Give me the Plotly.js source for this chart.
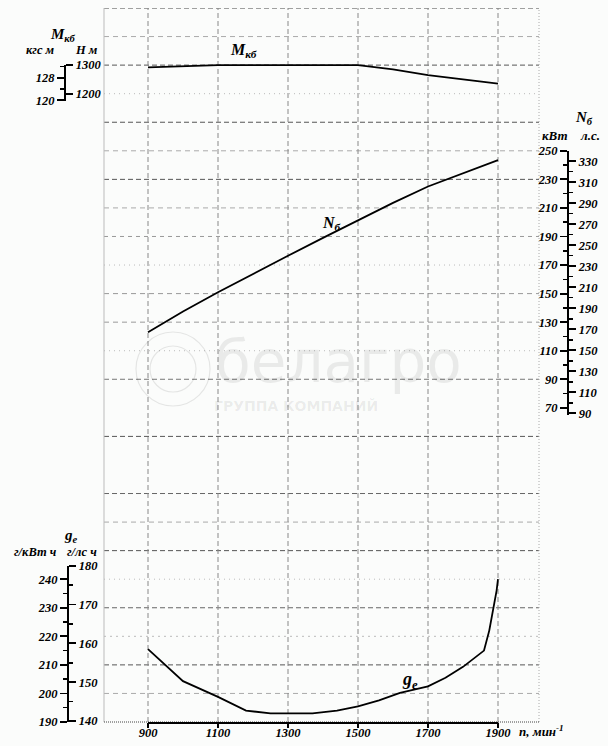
<!DOCTYPE html>
<html>
<head>
<meta charset="utf-8">
<script src="https://cdn.plot.ly/plotly-3.0.1.min.js"></script>
<style>html,body{margin:0;padding:0;background:#fbfcfb;}#chart{width:608px;height:746px;}</style>
</head>
<body>
<div id="chart"></div>
<script>
// ---------- data ----------
const rpmTorque = [900, 1000, 1100, 1200, 1300, 1400, 1500, 1600, 1700, 1800, 1900];
const torqueNm  = [1292, 1297, 1300, 1300, 1300, 1300, 1300, 1285, 1265, 1250, 1235];

const rpmPower  = [900, 1000, 1100, 1200, 1300, 1400, 1500, 1600, 1700, 1800, 1900];
const powerKw   = [123, 137.5, 151, 164, 176.5, 189, 201.5, 213.5, 225, 234, 243.5];

const rpmFuel   = [900, 1000, 1100, 1180, 1250, 1300, 1370, 1440, 1500, 1560, 1620, 1700, 1750, 1800, 1860, 1875, 1888, 1896, 1900];
const fuelGkWh  = [215.5, 204.3, 198.8, 194, 193, 193, 193, 194, 195.5, 197.6, 200.2, 202.5, 205.5, 209.3, 215, 222, 230, 236, 240];

const rpmTicks  = [900, 1100, 1300, 1500, 1700, 1900];
const nmTicks   = [1200, 1300];
const kgfTicks  = [120, 128];
const kwTicks   = [70, 90, 110, 130, 150, 170, 190, 210, 230, 250];
const hpTicks   = [90, 110, 130, 150, 170, 190, 210, 230, 250, 270, 290, 310, 330];
const gkwhTicks = [190, 200, 210, 220, 230, 240];
const ghphTicks = [140, 150, 160, 170, 180];

// ---------- geometry ----------
const W = 608, H = 746;
const X0 = 104, X1 = 539, Y0 = 8, Y1 = 722;
const xDom = [X0 / W, X1 / W];
const yDom = [(H - Y1) / H, (H - Y0) / H];
const fx = px => px / W;
const fy = py => (H - py) / H;

const NM_RANGE = [-1000, 1500];
const KW_RANGE = [-150, 350];
const G_RANGE  = [190, 440];
const KW_PER_HP = 0.73549875;
const NM_PER_KGF = 9.80665;

function subDomain(full, lo, hi) {
  const f = v => yDom[0] + (v - full[0]) / (full[1] - full[0]) * (yDom[1] - yDom[0]);
  return [f(lo), f(hi)];
}

const serif = {family: 'Liberation Serif, DejaVu Serif, serif', color: '#000', weight: 'bold', style: 'italic'};
const tickFont = Object.assign({}, serif, {size: 12.5});

// ---------- traces ----------
const line = {color: '#000', width: 1.8};
const traces = [
  {x: rpmTorque, y: torqueNm, xaxis: 'x', yaxis: 'y',  mode: 'lines', line, hoverinfo: 'skip', showlegend: false},
  {x: rpmPower,  y: powerKw,  xaxis: 'x', yaxis: 'y2', mode: 'lines', line, hoverinfo: 'skip', showlegend: false},
  {x: rpmFuel,   y: fuelGkWh, xaxis: 'x', yaxis: 'y3', mode: 'lines', line, hoverinfo: 'skip', showlegend: false}
];
['y4', 'y5', 'y6', 'y7', 'y8', 'y9'].forEach(ya => traces.push(
  {x: [null], y: [null], xaxis: 'x', yaxis: ya, mode: 'lines', hoverinfo: 'skip', showlegend: false}
));

// ---------- display scales ----------
const nmLo = 1176, nmHi = 1300;
const nmDom = subDomain(NM_RANGE, nmLo, nmHi);
const kwLo = 65, kwHi = 250;
const kwDom = subDomain(KW_RANGE, kwLo, kwHi);
const gLo = 190, gHi = 180 / KW_PER_HP;
const gDom = subDomain(G_RANGE, gLo, gHi);

function scaleAxis(dom, pos, side, range, tickvals, minor) {
  const a = {
    domain: dom, anchor: 'free', position: pos, side: side, range: range,
    tickmode: 'array', tickvals: tickvals, ticks: 'outside', ticklen: 7, tickwidth: 1.8, tickcolor: '#000',
    showline: true, linecolor: '#000', linewidth: 2.2, showgrid: false, zeroline: false,
    tickfont: tickFont, fixedrange: true
  };
  if (minor) a.minor = Object.assign({ticks: 'outside', ticklen: 4, tickwidth: 1.5, tickcolor: '#000', showgrid: false}, minor);
  return a;
}

const hidden = r => ({domain: yDom, range: r, visible: false, fixedrange: true});

// ---------- grid ----------
const shapes = [];
const gridStyle = {
  0: ['#444', '5px,3px'], 1: ['#aaa', '5px,4px'], 2: ['#555', '5px,3px'], 3: ['#bbb', '1px,4px'],
  4: ['#555', '5px,3px'], 5: ['#aaa', '5px,4px'], 6: ['#555', '5px,3px'], 7: ['#aaa', '5px,4px'],
  8: ['#999', '4px,4px'], 9: ['#bbb', '1px,4px'], 10: ['#999', '5px,4px'], 11: ['#999', '5px,4px'],
  12: ['#bbb', '1px,4px'], 13: ['#777', '5px,3px'], 15: ['#555', '5px,3px'], 17: ['#666', '5px,3px'],
  18: ['#aaa', '5px,4px'], 19: ['#555', '5px,3px'], 20: ['#bbb', '1px,4px'], 21: ['#666', '5px,3px'],
  22: ['#bbb', '2px,4px'], 23: ['#555', '5px,3px'], 24: ['#aaa', '5px,4px']
};
Object.keys(gridStyle).forEach(k => {
  const i = +k, st = gridStyle[k];
  const v = NM_RANGE[1] - 100 * i;
  shapes.push({type: 'line', xref: 'paper', yref: 'y', x0: xDom[0], x1: xDom[1], y0: v, y1: v,
    line: {color: st[0], width: 1, dash: st[1]}, layer: 'below'});
});
rpmTicks.forEach(r => shapes.push({type: 'line', xref: 'x', yref: 'paper', x0: r, x1: r, y0: yDom[0], y1: yDom[1],
  line: {color: '#888', width: 1, dash: '5px,3px'}, layer: 'below'}));
// frame
shapes.push({type: 'line', xref: 'paper', yref: 'paper', x0: xDom[0], x1: xDom[0], y0: yDom[0], y1: yDom[1], line: {color: '#bbb', width: 1}, layer: 'below'});
shapes.push({type: 'line', xref: 'paper', yref: 'paper', x0: xDom[1], x1: xDom[1], y0: yDom[0], y1: yDom[1], line: {color: '#aaa', width: 1, dash: '1px,2px'}, layer: 'below'});
shapes.push({type: 'line', xref: 'paper', yref: 'paper', x0: xDom[0], x1: xDom[1], y0: yDom[0], y1: yDom[0], line: {color: '#444', width: 1, dash: '1px,1px'}, layer: 'below'});
shapes.push({type: 'line', xref: 'x', yref: 'paper', x0: rpmTicks[0], x1: rpmTicks[rpmTicks.length - 1], y0: fy(Y1 + 1), y1: fy(Y1 + 1), line: {color: '#000', width: 1.8}});
// watermark circles
shapes.push({type: 'circle', xref: 'paper', yref: 'paper', x0: fx(136), x1: fx(210), y0: fy(406), y1: fy(332), line: {color: 'rgba(0,0,0,0.09)', width: 1.2}, layer: 'below'});
shapes.push({type: 'circle', xref: 'paper', yref: 'paper', x0: fx(150), x1: fx(196), y0: fy(392), y1: fy(346), line: {color: 'rgba(0,0,0,0.09)', width: 1.2}, layer: 'below'});

// ---------- annotations ----------
function ann(text, px, py, size, opts) {
  return Object.assign({xref: 'paper', yref: 'paper', x: fx(px), y: fy(py), text: text, showarrow: false,
    xanchor: 'center', yanchor: 'middle', font: Object.assign({}, serif, {size: size})}, opts || {});
}
const annotations = [
  ann('M<sub>кб</sub>', 62, 35, 15),
  ann('кгс м', 40, 50, 12.5),
  ann('Н м', 87, 50, 12.5),
  ann('N<sub>б</sub>', 584, 118, 15),
  ann('кВт', 555, 135, 13),
  ann('л.с.', 590, 135, 13),
  ann('g<sub>e</sub>', 71, 536, 15),
  ann('г/кВт ч', 35, 552, 12.5),
  ann('г/лс ч', 82, 552, 12.5),
  ann('M<sub>кб</sub>', 243, 50, 16),
  ann('N<sub>б</sub>', 331, 224, 16),
  ann('g<sub>e</sub>', 410, 680, 18),
  ann('n, мин<sup>-1</sup>', 541, 731, 13),
  ann('белагро', 338, 362, 58, {font: {family: 'DejaVu Sans, sans-serif', size: 58, color: 'rgba(0,0,0,0.07)'}}),
  ann('ГРУППА КОМПАНИЙ', 296, 406, 14, {font: {family: 'DejaVu Sans, sans-serif', size: 14, weight: 'bold', color: 'rgba(0,0,0,0.08)'}})
];

// ---------- layout ----------
const layout = {
  width: W, height: H,
  margin: {l: 0, r: 0, t: 0, b: 0, pad: 0},
  paper_bgcolor: '#fbfcfb', plot_bgcolor: 'rgba(0,0,0,0)',
  showlegend: false,
  xaxis: {
    domain: xDom, range: [900 - (148 - X0) / 0.35, 1900 + (X1 - 498) / 0.35], anchor: 'y',
    tickmode: 'array', tickvals: rpmTicks, ticks: 'outside', ticklen: 5, tickwidth: 1.8, tickcolor: '#000',
    ticklabelstandoff: -6,
    showline: false, showgrid: false, zeroline: false, tickfont: tickFont, fixedrange: true
  },
  yaxis:  hidden(NM_RANGE),
  yaxis2: Object.assign(hidden(KW_RANGE), {overlaying: 'y'}),
  yaxis3: Object.assign(hidden(G_RANGE), {overlaying: 'y'}),
  yaxis4: scaleAxis(nmDom, fx(65), 'right', [nmLo, nmHi], nmTicks, null),
  yaxis5: scaleAxis(nmDom, fx(65), 'left', [nmLo / NM_PER_KGF, nmHi / NM_PER_KGF], kgfTicks, {tick0: 120, dtick: 4}),
  yaxis6: scaleAxis(kwDom, fx(568), 'left', [kwLo, kwHi], kwTicks, {dtick: 10}),
  yaxis7: scaleAxis(kwDom, fx(568), 'right', [kwLo / KW_PER_HP, kwHi / KW_PER_HP], hpTicks, {dtick: 10}),
  yaxis8: scaleAxis(gDom, fx(68), 'left', [gLo, gHi], gkwhTicks, {dtick: 5}),
  yaxis9: scaleAxis(gDom, fx(68), 'right', [gLo * KW_PER_HP, gHi * KW_PER_HP], ghphTicks, {dtick: 5}),
  shapes: shapes,
  annotations: annotations
};

Plotly.newPlot('chart', traces, layout, {staticPlot: true, displayModeBar: false});
</script>
</body>
</html>
